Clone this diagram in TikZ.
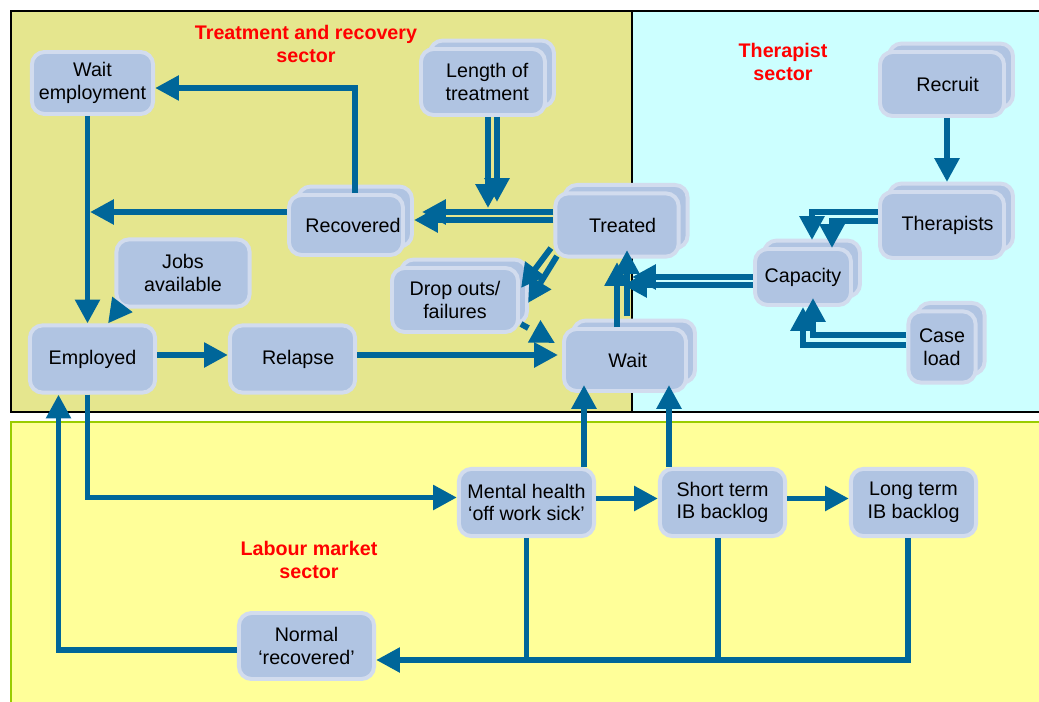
\documentclass[tikz,border=0pt]{standalone}
\usepackage{fontspec}
\setmainfont{Liberation Sans}
\usetikzlibrary{arrows.meta,shadows,calc}
\definecolor{treatbg}{HTML}{E5E68E}
\definecolor{therbg}{HTML}{CCFFFF}
\definecolor{labourbg}{HTML}{FFFF99}
\definecolor{labouredge}{HTML}{99CC00}
\definecolor{boxfill}{HTML}{B0C4E2}
\definecolor{boxedge}{HTML}{D2DCEE}
\definecolor{flowblue}{HTML}{006699}

\begin{document}
\begin{tikzpicture}[x=0.025cm,y=-0.025cm,
  box/.style={draw=boxedge,fill=boxfill,line width=2.8pt,rounded corners=9pt,align=center,inner sep=1pt,font=\fontsize{14}{16}\selectfont},
  stack/.style={box,copy shadow={shadow xshift=6.4pt,shadow yshift=6pt,draw=boxedge,fill=boxfill,line width=2.8pt}},
  flow/.style={draw=flowblue,line width=4.2pt,-{Triangle[length=17pt,width=17pt]}},
  pipe/.style={draw=flowblue,line width=4.2pt},
  sector/.style={text=red,align=center,font=\fontsize{14}{17}\selectfont\bfseries}]
\useasboundingbox (0,0) rectangle (1039,702);
% sectors
\fill[treatbg] (11,11) rectangle (632,412);
\fill[therbg] (632,11) rectangle (1039,412);
\fill[labourbg] (11,422) rectangle (1039,702);
\draw[line width=1.4pt] (1039,11) -- (11,11) -- (11,412) -- (1039,412);
\draw[line width=0.8pt] (632,11) -- (632,412);
\draw[labouredge,line width=1.4pt] (1039,422) -- (11,422) -- (11,702);
\node[sector] (treatlbl) at (306,44) {Treatment and recovery\\sector};
\node[sector] (therlbl) at (783,62) {Therapist\\sector};
\node[sector] (labourlbl) at (309,560) {Labour market\\sector};
% stocks
\node[box,minimum width=3.03cm,minimum height=1.55cm] (wemp) at (92.5,83) {Wait\\employment};
\node[stack,minimum width=3.1cm,minimum height=1.65cm] (length) at (483,82) {\hspace{6pt}Length of\\\hspace{6pt}treatment};
\node[stack,minimum width=2.85cm,minimum height=1.5cm] (recov) at (346,225) {\hspace{10pt}Recovered};
\node[stack,minimum width=3.08cm,minimum height=1.58cm] (treated) at (617,225) {\hspace{8pt}Treated};
\node[box,minimum width=3.33cm,minimum height=1.68cm] (jobs) at (183,273) {Jobs\\available};
\node[stack,minimum width=3.15cm,minimum height=1.6cm] (drop) at (455,300) {Drop outs/\\failures};
\node[box,minimum width=3.13cm,minimum height=1.68cm] (employed) at (92.5,359) {Employed};
\node[box,minimum width=3.13cm,minimum height=1.68cm] (relapse) at (292.5,359) {\hspace{8pt}Relapse};
\node[stack,minimum width=3.05cm,minimum height=1.55cm] (wait) at (625,360) {\hspace{4pt}Wait};
\node[stack,minimum width=3.1cm,minimum height=1.6cm] (recruit) at (942,84) {\hspace{8pt}Recruit};
\node[stack,minimum width=3.1cm,minimum height=1.65cm] (therapists) at (942,225) {\hspace{8pt}Therapists};
\node[stack,minimum width=2.4cm,minimum height=1.4cm] (capacity) at (803,277) {Capacity};
\node[stack,minimum width=1.68cm,minimum height=1.78cm] (caseload) at (942,347) {Case\\load};
\node[box,minimum width=3.38cm,minimum height=1.68cm] (mental) at (526.5,502.5) {Mental health\\‘off work sick’};
\node[box,minimum width=3.13cm,minimum height=1.68cm] (short) at (722.5,502.5) {Short term\\IB backlog};
\node[box,minimum width=3.13cm,minimum height=1.68cm] (long) at (913.5,502.5) {Long term\\IB backlog};
\node[box,minimum width=3.38cm,minimum height=1.65cm] (normal) at (306.5,646) {Normal\\‘recovered’};
% treatment and recovery flows
\coordinate (wjoin) at (90,212);
\draw[flow] ($(recov.north)+(9,0)$) |- ($(wemp.east)+(0,5)$);
\draw[flow] ($(recov.west)+(0,-13)$) -- (wjoin);
\draw[flow] ($(wemp.south)+(-5,0)$) -- ($(employed.north)+(-5,0)$);
\draw[flow] ($(jobs.south west)+(7.5,-3.5)$) -- ($(employed.north)+(15.5,0)$);
\draw[flow] ($(employed.east)+(0,-4)$) -- ($(relapse.west)+(0,-4)$);
\draw[flow] ($(relapse.east)+(0,-4)$) -- ($(wait.west)+(-4,-5)$);
\draw[flow,dash pattern=on 6pt off 5pt] ($(drop.south east)+(1,-10)$) -- ($(wait.north west)+(-7,16)$);
\draw[flow] ($(treated.west)+(0,-13)$) -- ($(recov.east)+(17,-13)$);
\draw[flow] ($(treated.west)+(0,-5)$) -- ($(recov.east)+(9,-5)$);
\draw[flow] ($(length.south)+(5,0)$) -- ($(length.south |- recov.east)+(5,-17)$);
\draw[flow] ($(length.south)+(14,0)$) -- ($(length.south |- recov.east)+(14,-23)$);
\draw[flow] ($(treated.south west)+(-2.5,-10.5)$) -- ($(drop.east)+(1,-12)$);
\draw[flow] ($(treated.south west)+(3.5,-2.5)$) -- ($(drop.east)+(8,3)$);
\draw[flow] ($(wait.north)+(-8,0)$) -- ($(treated.south)+(0,3.5)$);
\draw[flow] ($(wait.north)+(2,-11)$) -- ($(treated.south)+(10,-8.5)$);
% therapist flows
\draw[flow] (capacity.west) -- ($(wait.north |- capacity.west)+(7,0)$);
\draw[flow] ($(capacity.west)+(0,8)$) -- ($(wait.north |- capacity.west)+(-2,8)$);
\draw[flow] ($(recruit.south)+(5,0)$) -- ($(therapists.north)+(5,-8)$);
\draw[flow] ($(therapists.west)+(0,-13)$) -| ($(capacity.north)+(9,-7)$);
\draw[flow] ($(therapists.west)+(0,-4)$) -| ($(capacity.north)+(29,1)$);
\draw[flow] ($(caseload.west)+(0,-12)$) -| ($(capacity.south)+(10,-9)$);
\draw[flow] ($(caseload.west)+(0,-2)$) -| (capacity.south);
% labour market flows
\draw[flow] ($(employed.south)+(-5,0)$) |- ($(mental.west)+(0,-5)$);
\draw[flow] ($(normal.west)+(0,4)$) -| ($(employed.south)+(-34,0)$);
\draw[flow] ($(mental.east)+(0,-4)$) -- ($(short.west)+(0,-4)$);
\draw[flow] ($(short.east)+(0,-4)$) -- ($(long.west)+(0,-4)$);
\draw[flow] ($(mental.north)+(57.5,0)$) -- ($(wait.south)+(-41,-8)$);
\draw[flow] ($(short.north)+(-53.5,0)$) -- ($(wait.south)+(44,-8)$);
\draw[pipe] (mental.south) -- ($(mental.south |- normal.east)+(0,14)$);
\draw[pipe] ($(short.south)+(-4.5,0)$) -- ($(short.south |- normal.east)+(-4.5,14)$);
\draw[flow] ($(long.south)+(-5.5,0)$) |- ($(normal.east)+(0,14)$);
\end{tikzpicture}
\end{document}
